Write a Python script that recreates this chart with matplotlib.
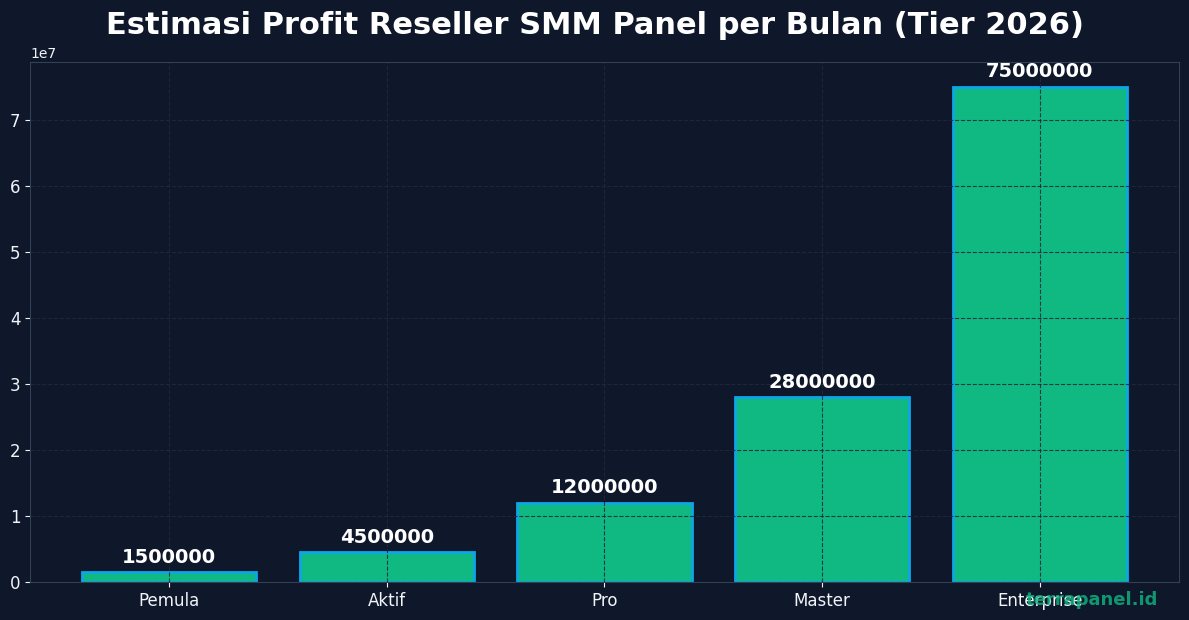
import matplotlib
matplotlib.use('Agg')
from matplotlib import pyplot as plt

tiers = ['Pemula', 'Aktif', 'Pro', 'Master', 'Enterprise']
profits = [1500000, 4500000, 12000000, 28000000, 75000000]

BG = '#0f172a'
FG = '#f1f5f9'

fig = plt.figure(figsize=(11.89, 6.2), dpi=100, facecolor=BG)
ax = fig.add_axes([30 / 1189, 38 / 620, 1149 / 1189, 520 / 620])
ax.set_facecolor(BG)

bars = ax.bar(tiers, profits, width=0.8, color='#10b981',
              edgecolor='#0ea5e9', linewidth=2)

for rect, val in zip(bars, profits):
    ax.text(rect.get_x() + rect.get_width() / 2, val + 0.8e6, str(val),
            ha='center', va='bottom', color='white', fontsize=14,
            fontweight='bold')

ax.grid(True, linestyle='--', color='#1e293b', alpha=0.9, linewidth=0.8)
for spine in ax.spines.values():
    spine.set_color('#334155')
ax.tick_params(colors=FG, labelsize=12)
ax.yaxis.get_offset_text().set_color(FG)

fig.suptitle('Estimasi Profit Reseller SMM Panel per Bulan (Tier 2026)',
             color='white', fontsize=22, fontweight='bold', y=0.982)

fig.text(0.974, 0.018, 'terrapanel.id', ha='right', va='bottom',
         color='#10b981', alpha=0.8, fontsize=13, fontweight='bold')

fig.savefig('out.png', facecolor=BG)
